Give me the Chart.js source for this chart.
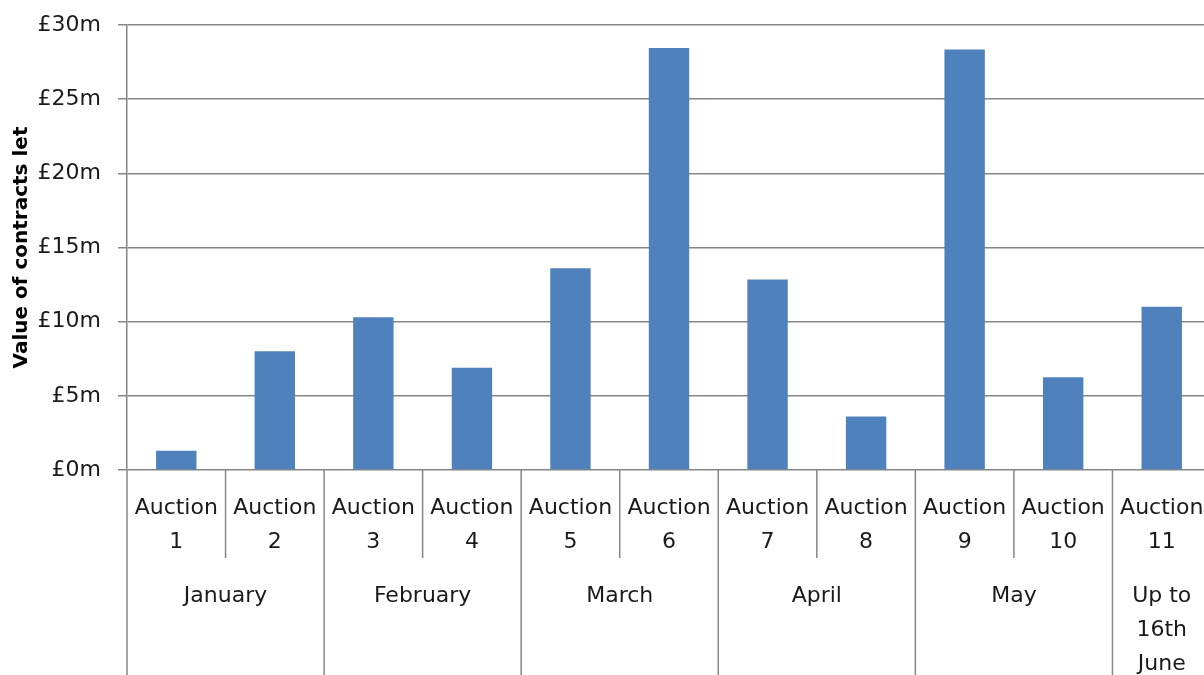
<!DOCTYPE html>
<html>
<head>
<meta charset="utf-8">
<script src="https://cdn.jsdelivr.net/npm/chart.js@4"></script>
<style>
  html, body { margin: 0; padding: 0; background: #fff; overflow: hidden; }
  #wrap { width: 1216px; height: 675px; position: relative; }
</style>
</head>
<body>
<div id="wrap"><canvas id="chart"></canvas></div>
<script>
const auctions = ['Auction 1', 'Auction 2', 'Auction 3', 'Auction 4', 'Auction 5', 'Auction 6',
                  'Auction 7', 'Auction 8', 'Auction 9', 'Auction 10', 'Auction 11'];
const values = [1.3, 8.0, 10.3, 6.9, 13.6, 28.45, 12.85, 3.6, 28.35, 6.25, 11.0];
const months = ['January', 'February', 'March', 'April', 'May', 'Up to\n16th\nJune'];
const monthSizes = [2, 2, 2, 2, 2, 1];
const yTicks = [0, 5, 10, 15, 20, 25, 30];

const GRID = '#868686';
const TEXT = '#1a1a1a';
const FONT = 'DejaVu Sans';

// draws the two-level category axis under the plot
const groupAxis = {
  id: 'groupAxis',
  afterDraw(chart) {
    const { ctx, chartArea, scales } = chart;
    const x = scales.x;
    const bottom = chartArea.bottom;
    const H = chart.height;
    const half = (x.getPixelForValue(1) - x.getPixelForValue(0)) / 2;
    ctx.save();
    ctx.strokeStyle = GRID;
    ctx.lineWidth = 1.5;
    ctx.fillStyle = TEXT;
    ctx.font = `22px "${FONT}"`;
    ctx.textAlign = 'center';
    ctx.textBaseline = 'middle';

    // left axis continues to the bottom
    ctx.beginPath();
    ctx.moveTo(chartArea.left, bottom);
    ctx.lineTo(chartArea.left, H);
    ctx.stroke();

    auctions.forEach((a, i) => {
      const cx = x.getPixelForValue(i);
      const parts = a.split(' ');
      ctx.fillText(parts[0], cx, bottom + 38);
      ctx.fillText(parts[1], cx, bottom + 72);
    });

    let idx = 0;
    months.forEach((m, g) => {
      const first = idx;
      const last = idx + monthSizes[g] - 1;
      const xl = x.getPixelForValue(first) - half;
      const xr = x.getPixelForValue(last) + half;
      // short separators between auctions inside a month
      for (let k = first; k < last; k++) {
        const sx = x.getPixelForValue(k) + half;
        ctx.beginPath();
        ctx.moveTo(sx, bottom);
        ctx.lineTo(sx, bottom + 88);
        ctx.stroke();
      }
      if (g > 0) {
        ctx.beginPath();
        ctx.moveTo(xl, bottom);
        ctx.lineTo(xl, H);
        ctx.stroke();
      }
      const cx = (xl + xr) / 2;
      m.split('\n').forEach((line, j) => {
        ctx.fillText(line, cx, bottom + 126 + j * 34);
      });
      idx = last + 1;
    });
    ctx.restore();
  }
};

new Chart(document.getElementById('chart'), {
  type: 'bar',
  data: {
    labels: auctions,
    datasets: [{
      label: 'Value of contracts let',
      data: values,
      backgroundColor: '#4F81BD',
      borderWidth: 0,
      categoryPercentage: 1,
      barPercentage: 0.41,
    }]
  },
  options: {
    responsive: true,
    maintainAspectRatio: false,
    animation: false,
    layout: { padding: { top: 25, right: 5, left: 0, bottom: 0 } },
    plugins: {
      legend: { display: false },
      tooltip: { enabled: false }
    },
    scales: {
      x: {
        grid: { display: false },
        border: { display: false },
        ticks: { display: false },
        afterFit(scale) { scale.height = 205; }
      },
      y: {
        min: 0,
        max: 30,
        afterBuildTicks(scale) { scale.ticks = yTicks.map(v => ({ value: v })); },
        afterFit(scale) {
          scale.width = 127;
          scale.paddingTop = 0;
          scale.paddingBottom = 0;
        },
        border: { display: true, color: GRID, width: 1.5 },
        grid: { color: GRID, lineWidth: 1.5, tickLength: 9, tickColor: GRID },
        ticks: {
          padding: 17,
          color: TEXT,
          font: { family: FONT, size: 22 },
          callback: v => '£' + v + 'm'
        },
        title: {
          display: true,
          text: 'Value of contracts let',
          color: '#000',
          font: { family: FONT, size: 20, weight: 'bold' },
          padding: { top: 10, bottom: 0 }
        }
      }
    }
  },
  plugins: [groupAxis]
});
</script>
</body>
</html>
